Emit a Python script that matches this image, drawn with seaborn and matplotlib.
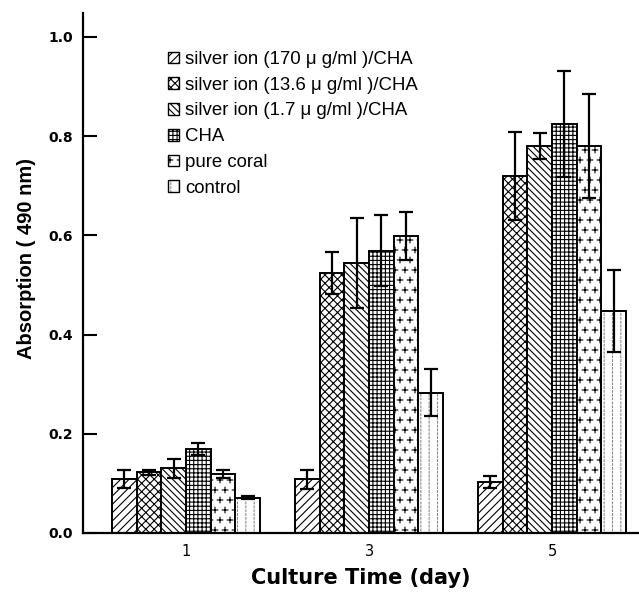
import numpy as np
import pandas as pd
import matplotlib
matplotlib.use("Agg")
import matplotlib.pyplot as plt
import matplotlib.hatch as mhatch
import matplotlib.patches as mpatches
import matplotlib.colors as mcolors
from matplotlib.path import Path
import seaborn as sns

# ---------------- data ----------------
days = ["1", "3", "5"]
groups = ["silver ion (170 μ g/ml )/CHA",
          "silver ion (13.6 μ g/ml )/CHA",
          "silver ion (1.7 μ g/ml )/CHA",
          "CHA",
          "pure coral",
          "control"]
ag170 = [0.108, 0.108, 0.103]
ag13_6 = [0.122, 0.524, 0.720]
ag1_7 = [0.130, 0.544, 0.780]
cha = [0.170, 0.569, 0.825]
coral = [0.119, 0.599, 0.780]
control = [0.071, 0.283, 0.448]

err170 = [0.018, 0.019, 0.012]
err13_6 = [0.005, 0.043, 0.089]
err1_7 = [0.019, 0.091, 0.027]
errcha = [0.012, 0.071, 0.107]
errcoral = [0.008, 0.048, 0.104]
errcontrol = [0.003, 0.047, 0.083]

means = [ag170, ag13_6, ag1_7, cha, coral, control]
errs = [err170, err13_6, err1_7, errcha, errcoral, errcontrol]
hatches = ["////", "xxxx", "\\\\\\\\\\", "++++", "**", "."]


# custom "plus sign" hatch, registered in place of the star hatch
class _Pluses(mhatch.Shapes):
    size = 0.55
    filled = True

    def __init__(self, hatch, density):
        self.num_rows = hatch.count('*') * 5
        self.shape_vertices = np.array([[-0.5, 0.0], [0.5, 0.0],
                                        [0.0, -0.5], [0.0, 0.5]])
        self.shape_codes = np.array([Path.MOVETO, Path.LINETO,
                                     Path.MOVETO, Path.LINETO],
                                    dtype=Path.code_type)
        super().__init__(hatch, density)


# custom "dotted vertical lines" hatch, in place of the small-dot hatch
class _VDots(mhatch.HatchPatternBase):
    def __init__(self, hatch, density):
        n = hatch.count('.')
        self.ncol = 12 * n
        self.nrow = 26 * n
        self.num_vertices = self.ncol * self.nrow * 2

    def set_vertices_and_codes(self, vertices, codes):
        xs = (np.arange(self.ncol) + 0.5) / self.ncol
        ys = np.arange(self.nrow) / self.nrow
        X, Y = np.meshgrid(xs, ys)
        starts = np.column_stack([X.ravel(), Y.ravel()])
        ends = starts + np.array([0.0, 0.45 / self.nrow])
        vertices[0::2] = starts
        vertices[1::2] = ends
        codes[0::2] = Path.MOVETO
        codes[1::2] = Path.LINETO


_new = []
for c in mhatch._hatch_types:
    if c is mhatch.Stars:
        _new.append(_Pluses)
    elif c is mhatch.SmallFilledCircles:
        _new.append(_VDots)
    else:
        _new.append(c)
mhatch._hatch_types = _new

rows = []
for g, m, e in zip(groups, means, errs):
    for d, v, s in zip(days, m, e):
        rows.append({"day": d, "group": g, "value": v, "err": s})
df = pd.DataFrame(rows)

sns.set_style("ticks", {"axes.edgecolor": "black", "text.color": "black",
                        "axes.labelcolor": "black", "xtick.color": "black",
                        "ytick.color": "black"})
plt.rcParams["font.family"] = ["Liberation Sans", "DejaVu Sans"]
plt.rcParams["hatch.linewidth"] = 0.8

fig = plt.figure(figsize=(6.39, 5.92), dpi=100)
ax = fig.add_axes([83 / 639, 59 / 592, 556 / 639, 520 / 592])

sns.barplot(data=df, x="day", y="value", hue="group", order=days,
            hue_order=groups, palette=["white"] * len(groups),
            errorbar=None, width=0.81, gap=0, legend=False,
            edgecolor="black", linewidth=1.4, ax=ax, saturation=1)

gray = mcolors.to_rgba("#8a8a8a")
for cont, h, g, e in zip(ax.containers, hatches, groups, errs):
    xs, ys = [], []
    for p in cont.patches:
        p.set_hatch(h)
        p.set_facecolor("white")
        p.set_edgecolor("black")
        if g == "control":
            p._hatch_color = gray
        xs.append(p.get_x() + p.get_width() / 2)
        ys.append(p.get_height())
    ax.errorbar(xs, ys, yerr=e, fmt="none", ecolor="black",
                elinewidth=1.6, capsize=4.7, capthick=1.6, zorder=5)

ax.set_xlim(-0.563, 2.475)
ax.set_ylim(0, 1.048)
ax.set_yticks([0.0, 0.2, 0.4, 0.6, 0.8, 1.0])
ax.set_yticklabels(["0.0", "0.2", "0.4", "0.6", "0.8", "1.0"])

for s in ["top", "right"]:
    ax.spines[s].set_visible(False)
for s in ["left", "bottom"]:
    ax.spines[s].set_linewidth(1.6)
    ax.spines[s].set_color("black")

ax.tick_params(axis="y", direction="in", length=10, width=1.5, pad=7,
               labelsize=10)
ax.tick_params(axis="x", length=0, pad=8, labelsize=10.5)
for lab in ax.get_yticklabels():
    lab.set_fontweight("bold")
    lab.set_family(["DejaVu Sans"])
for lab in ax.get_xticklabels():
    lab.set_family(["DejaVu Sans"])

ax.set_xlabel("Culture Time (day)", fontsize=15, fontweight="bold",
              family=["DejaVu Sans"], va="top")
ax.set_ylabel("Absorption ( 490 nm)", fontsize=14.5, fontweight="bold")
ax.xaxis.set_label_coords(0.5, -0.067)
ax.yaxis.set_label_coords(-0.085, 0.527)

handles = []
for g, h in zip(groups, hatches):
    patch = mpatches.Patch(facecolor="white", edgecolor="black", hatch=h,
                           label=g, linewidth=1.0)
    handles.append(patch)
leg = ax.legend(handles=handles, loc="upper left",
                bbox_to_anchor=(168 / 639, 1 - 51 / 592),
                bbox_transform=fig.transFigure, frameon=False,
                fontsize=13.4, handlelength=0.6, handleheight=0.6,
                handletextpad=0.3, labelspacing=0.47, borderpad=0,
                borderaxespad=0)
leg.legend_handles[-1]._hatch_color = gray

fig.savefig("out.png", dpi=100)
